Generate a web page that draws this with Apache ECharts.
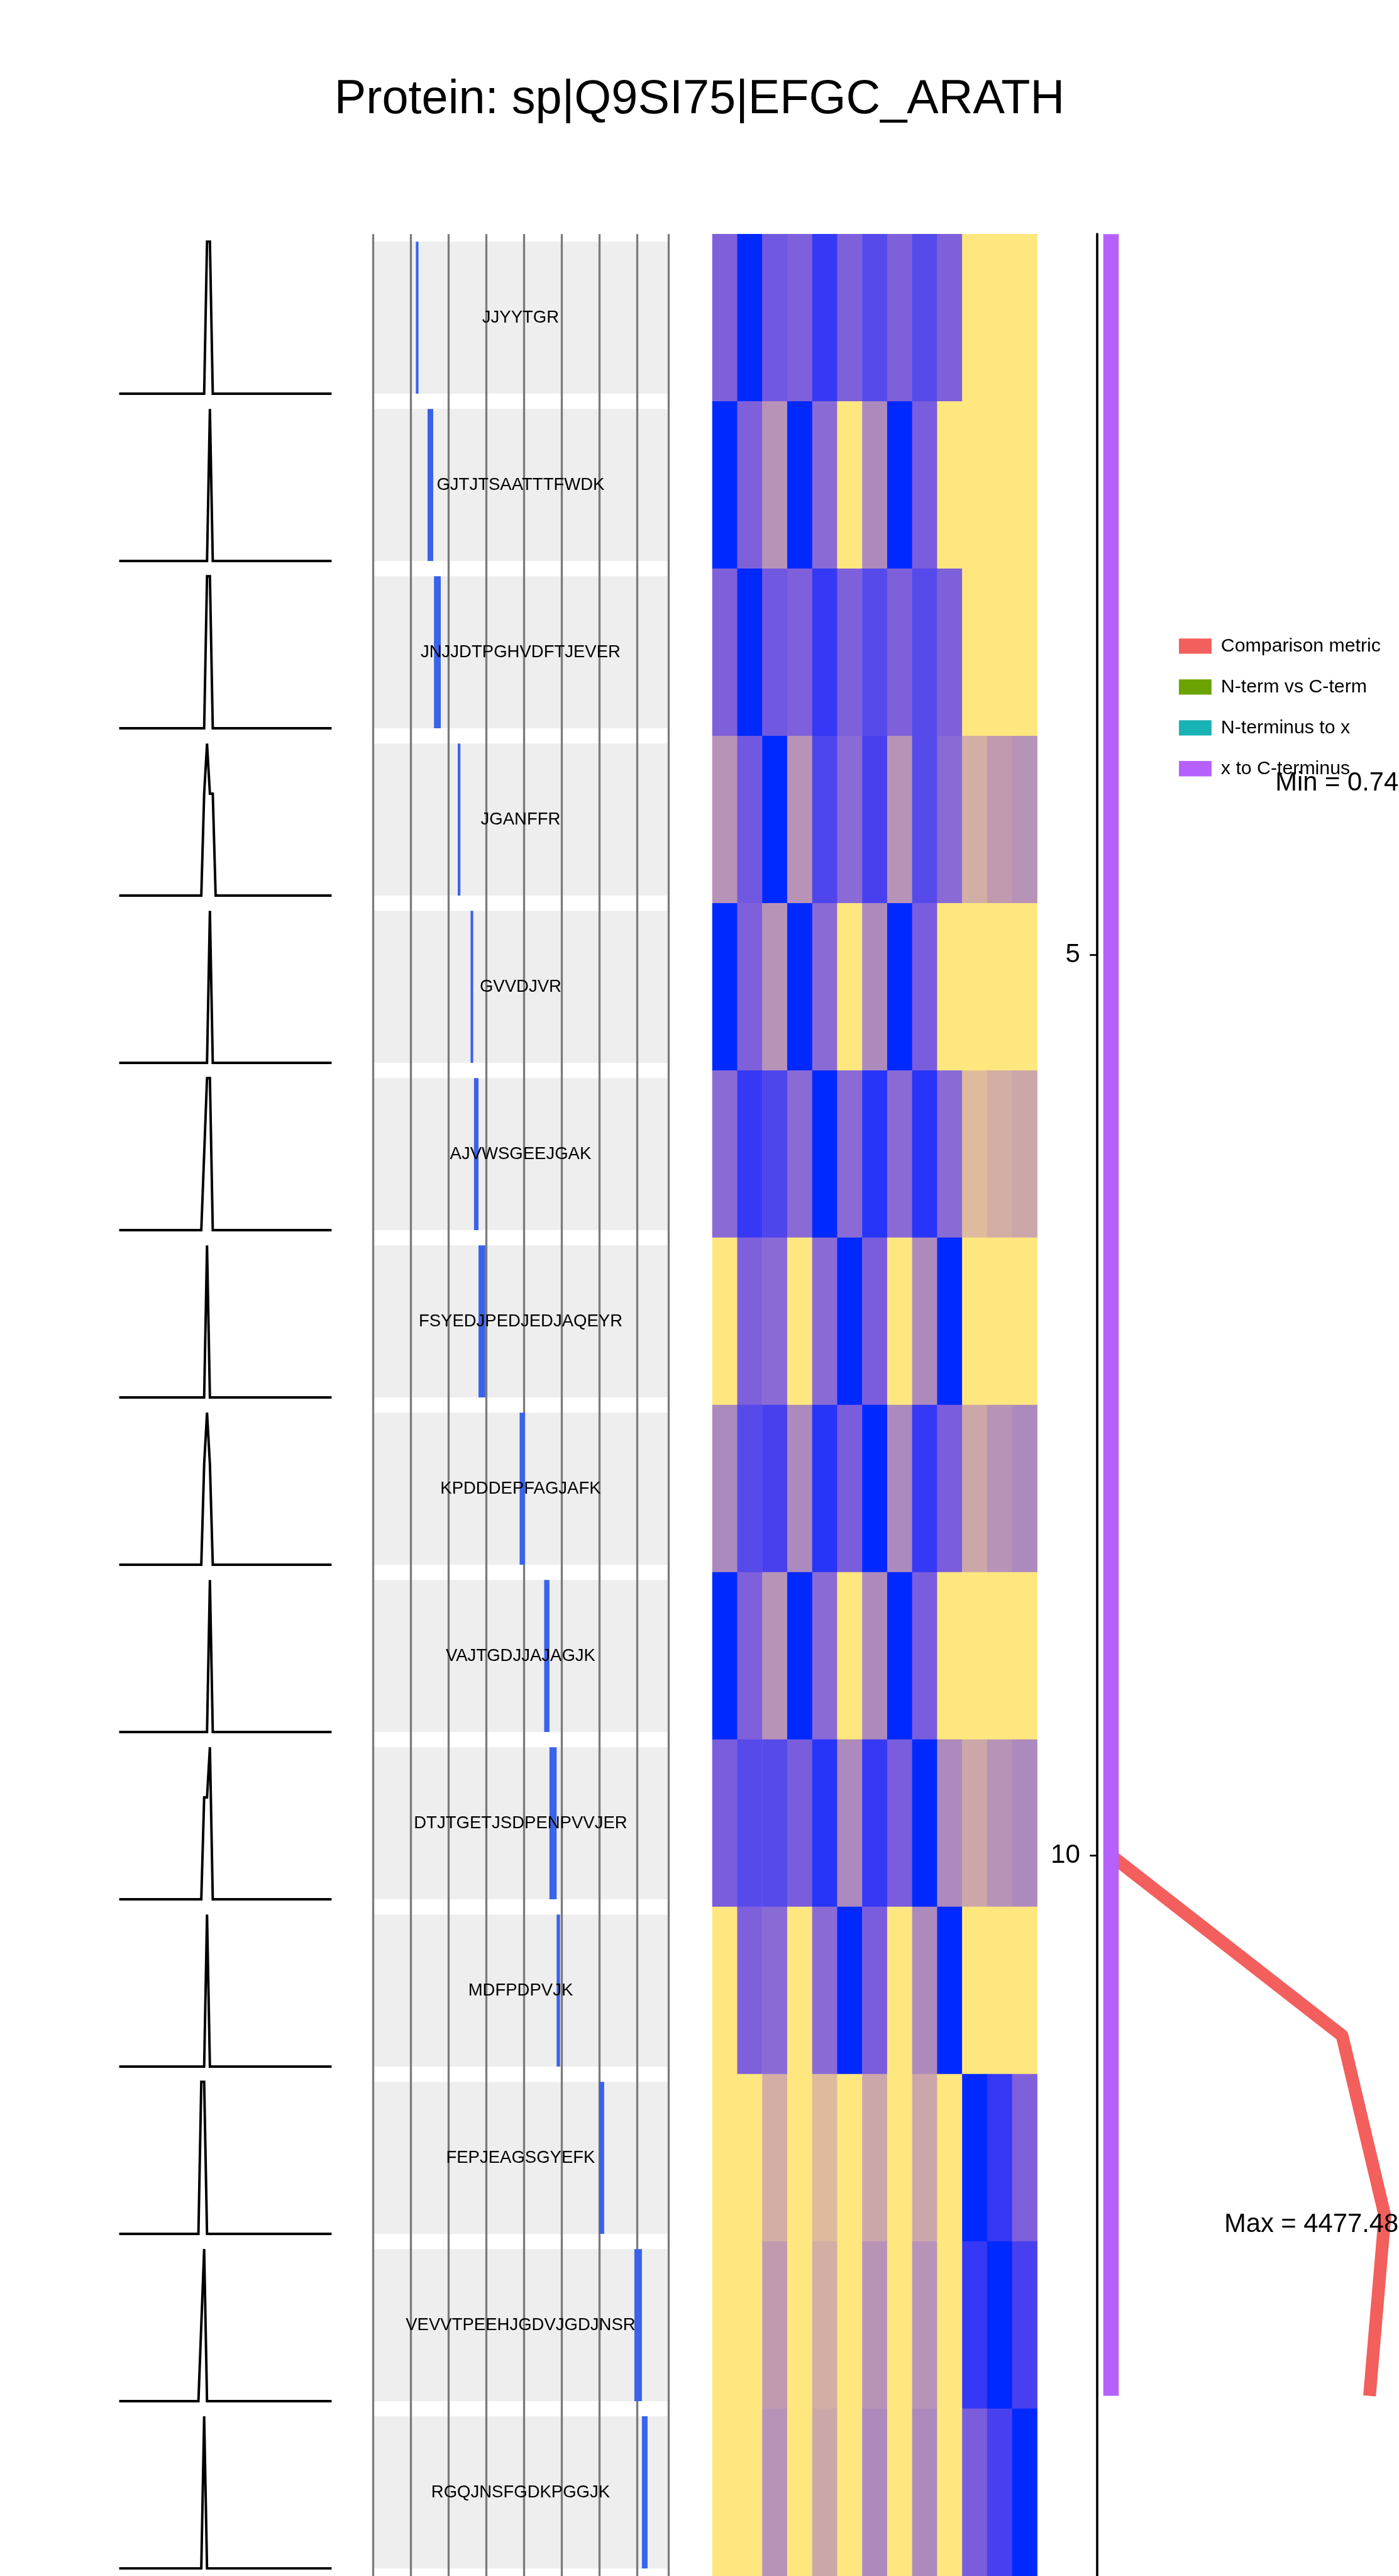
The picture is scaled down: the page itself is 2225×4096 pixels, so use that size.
<!DOCTYPE html>
<html>
<head>
<meta charset="utf-8">
<script src="https://cdn.jsdelivr.net/npm/echarts@6/dist/echarts.min.js"></script>
<style>html,body{margin:0;padding:0;background:#fff}#chart{width:2225px;height:4096px}</style>
</head>
<body>
<div id="chart"></div>
<script>
// ---------------- data ----------------
const proteinTitle = 'Protein: sp|Q9SI75|EFGC_ARATH';
const peptides = ['JJYYTGR','GJTJTSAATTTFWDK','JNJJDTPGHVDFTJEVER','JGANFFR','GVVDJVR','AJVWSGEEJGAK','FSYEDJPEDJEDJAQEYR','KPDDDEPFAGJAFK','VAJTGDJJAJAGJK','DTJTGETJSDPENPVVJER','MDFPDPVJK','FEPJEAGSGYEFK','VEVVTPEEHJGDVJGDJNSR','RGQJNSFGDKPGGJK'];
const peptideStart = [114,145,162,225,259,268,280,389,454,468,487,600,693,713];
const peptideEnd   = [121,160,180,232,266,280,298,403,468,487,496,613,713,728];
const proteinLength = 783;
const positionTickStep = 100;

// elution traces: [time, relative intensity]
const traces = [
  [[0,0],[29.6,0],[30.6,1],[31.6,1],[32.6,0],[74,0]],
  [[0,0],[30.6,0],[31.6,1],[32.6,0],[74,0]],
  [[0,0],[29.6,0],[30.6,1],[31.6,1],[32.6,0],[74,0]],
  [[0,0],[28.6,0],[29.6,0.67],[30.6,1],[31.6,0.67],[32.6,0.67],[33.6,0],[74,0]],
  [[0,0],[30.6,0],[31.6,1],[32.6,0],[74,0]],
  [[0,0],[28.6,0],[30.6,1],[31.6,1],[32.6,0],[74,0]],
  [[0,0],[29.6,0],[30.6,1],[31.6,0],[74,0]],
  [[0,0],[28.6,0],[29.6,0.66],[30.6,1],[31.6,0.66],[32.6,0],[74,0]],
  [[0,0],[30.6,0],[31.6,1],[32.6,0],[74,0]],
  [[0,0],[28.6,0],[29.6,0.67],[30.6,0.67],[31.6,1],[32.6,0],[74,0]],
  [[0,0],[29.6,0],[30.6,1],[31.6,0],[74,0]],
  [[0,0],[27.6,0],[28.6,1],[29.6,1],[30.6,0],[74,0]],
  [[0,0],[27.6,0],[29.6,1],[30.6,0],[74,0]],
  [[0,0],[28.6,0],[29.6,1],[30.6,0],[74,0]]
];
const traceTimeMax = 74;

// heatmap levels (0 = lowest / blue ... 16 = highest / yellow), 14 rows x 13 columns
const heatColumns = ['1','2','3','4','5','6','7','8','9','10','11','12','13'];
const heatLevels = [
  [8,0,6,8,2,8,5,8,5,8,16,16,16],
  [0,8,11,0,9,16,10,0,7,16,16,16,16],
  [8,0,6,8,2,8,5,8,5,8,16,16,16],
  [11,6,0,11,4,9,3,11,5,9,14,12,11],
  [0,8,11,0,9,16,10,0,7,16,16,16,16],
  [9,2,4,9,0,9,1,9,1,9,15,14,13],
  [16,8,9,16,9,0,7,16,10,0,16,16,16],
  [10,5,3,10,1,7,0,10,2,7,13,11,10],
  [0,8,11,0,9,16,10,0,7,16,16,16,16],
  [7,5,5,7,1,10,2,7,0,10,13,11,10],
  [16,8,9,16,9,0,7,16,10,0,16,16,16],
  [16,16,14,16,15,16,13,16,13,16,0,2,8],
  [16,16,12,16,14,16,11,16,11,16,2,0,3],
  [16,16,11,16,13,16,10,16,10,16,7,3,0]
];
const heatMin = 0, heatMax = 16;

// right panel
const legendNames = ['Comparison metric','N-term vs C-term','N-terminus to x','x to C-terminus'];
const metricRows = [10,11,12,13];
const metricValues = [0.74,3779,4477.48,4227];
const xToCRows = [1,13];
const xToCValues = [0,0];
const rowAxisMin = 1, rowAxisMax = 14;
const rowTicks = [5,10];
const annotationRows = [4.05,12.05];

// ---------------- styles / layout ----------------
const S = 2225 / 2424;
const s = v => v * S;
const FONT = '"Liberation Sans", Arial, Helvetica, sans-serif';
const W = 2225, H = 4096;
const gridTop = s(405.5);
const rowPitch = (H - gridTop) / peptides.length;
const fill = 0.909;
const heatColors = ['#0029FF','#2734FA','#3538F5','#4840EF','#4F45EC','#564AEB','#7058E0','#7A5DDD','#7F60DB','#8A6BD6','#AD8ABD','#B893B8','#C29AB0','#CCA7A9','#D2AEA4','#DEBB9C','#FEE77F'];
const seriesColors = ['#F25F5C','#6BA300','#19B2B5','#B660FE'];

const grids = [], xAxes = [], yAxes = [], series = [];

// peak panels
traces.forEach((tr, k) => {
  grids.push({left: s(206.5), width: s(368.1), top: gridTop + k*rowPitch + rowPitch*(1-fill)/2, height: rowPitch*fill});
  xAxes.push({gridIndex: k, type: 'value', min: 0, max: traceTimeMax, show: false});
  yAxes.push({gridIndex: k, type: 'value', min: 0, max: 1, show: false});
  series.push({type: 'line', xAxisIndex: k, yAxisIndex: k, data: tr, symbol: 'none', clip: false, silent: true,
    lineStyle: {color: '#000', width: s(4.3), join: 'miter'}});
});

// middle panel (peptide positions)
const gMid = grids.length;
grids.push({left: s(646), width: s(512), top: gridTop, height: H - gridTop});
xAxes.push({gridIndex: gMid, type: 'value', min: 0, max: proteinLength, interval: positionTickStep, z: 2,
  axisLine: {show: false}, axisTick: {show: false}, axisLabel: {show: false},
  splitLine: {show: true, lineStyle: {color: '#7A7A7A', width: s(3.6)}}});
yAxes.push({gridIndex: gMid, type: 'category', data: peptides, inverse: true, show: false});

series.push({type: 'custom', xAxisIndex: gMid, yAxisIndex: gMid, z: 1, silent: true,
  data: peptides.map((p, i) => [i, 0, proteinLength]), encode: {x: [1, 2], y: 0},
  renderItem: (params, api) => {
    const a = api.coord([api.value(1), api.value(0)]);
    const b = api.coord([api.value(2), api.value(0)]);
    const h = api.size([0, 1])[1] * fill;
    return {type: 'rect', shape: {x: a[0], y: a[1] - h/2, width: b[0] - a[0], height: h}, style: {fill: '#EEEEEE'}};
  }});
series.push({type: 'custom', xAxisIndex: gMid, yAxisIndex: gMid, z: 3, silent: true,
  data: peptides.map((p, i) => [i, peptideStart[i], peptideEnd[i]]), encode: {x: [1, 2], y: 0},
  renderItem: (params, api) => {
    const a = api.coord([api.value(1), api.value(0)]);
    const b = api.coord([api.value(2), api.value(0)]);
    const h = api.size([0, 1])[1] * fill;
    return {type: 'rect', shape: {x: a[0], y: a[1] - h/2, width: b[0] - a[0], height: h}, style: {fill: '#3A63EA'}};
  }});
series.push({type: 'custom', xAxisIndex: gMid, yAxisIndex: gMid, z: 4, silent: true,
  data: peptides.map((p, i) => [i, proteinLength / 2]), encode: {x: 1, y: 0},
  renderItem: (params, api) => {
    const c = api.coord([api.value(1), api.value(0)]);
    return {type: 'text', x: c[0], y: c[1], style: {text: peptides[params.dataIndex], fill: '#000',
      fontSize: s(30), fontFamily: FONT, align: 'center', verticalAlign: 'middle'}};
  }});

// heatmap panel
const gHeat = grids.length;
grids.push({left: s(1234.3), width: s(562.9), top: gridTop, height: H - gridTop});
xAxes.push({gridIndex: gHeat, type: 'category', data: heatColumns, show: false});
yAxes.push({gridIndex: gHeat, type: 'category', data: peptides, inverse: true, show: false});
const heatData = [];
heatLevels.forEach((row, r) => row.forEach((v, c) => heatData.push([c, r, v])));
const heatSeriesIndex = series.length;
series.push({type: 'heatmap', xAxisIndex: gHeat, yAxisIndex: gHeat, data: heatData, silent: true,
  itemStyle: {borderWidth: 0}, emphasis: {disabled: true}});

// right panel
const gR = grids.length;
const mMax = Math.max(...metricValues), mMin = Math.min(...metricValues);
const xLo = -0.05 * mMax, xHi = 1.05 * mMax;
grids.push({left: s(1901.3), width: s(521.9), top: gridTop, height: H - gridTop});
xAxes.push({gridIndex: gR, type: 'value', min: xLo, max: xHi, show: false});
yAxes.push({gridIndex: gR, type: 'value', min: rowAxisMin, max: rowAxisMax, inverse: true,
  axisLine: {show: true, onZero: false, lineStyle: {color: '#000', width: s(4)}},
  axisTick: {show: true, customValues: rowTicks, length: s(13), lineStyle: {color: '#000', width: s(3)}},
  axisLabel: {show: true, customValues: rowTicks, margin: s(29.8), color: '#000', fontSize: s(46), fontFamily: FONT},
  splitLine: {show: false}});

series.push({name: legendNames[0], type: 'line', xAxisIndex: gR, yAxisIndex: gR, color: seriesColors[0],
  data: metricValues.map((v, i) => [v, metricRows[i]]), symbol: 'none', clip: false, silent: true,
  lineStyle: {width: s(22), cap: 'butt', join: 'round'}});
series.push({name: legendNames[1], type: 'line', xAxisIndex: gR, yAxisIndex: gR, color: seriesColors[1], data: [], symbol: 'none'});
series.push({name: legendNames[2], type: 'line', xAxisIndex: gR, yAxisIndex: gR, color: seriesColors[2], data: [], symbol: 'none'});
series.push({name: legendNames[3], type: 'line', xAxisIndex: gR, yAxisIndex: gR, color: seriesColors[3],
  data: xToCValues.map((v, i) => [v, xToCRows[i]]), symbol: 'none', clip: false, silent: true,
  lineStyle: {width: s(26.8), cap: 'butt'}});

const annotationTexts = ['Min = ' + mMin, 'Max = ' + mMax];
series.push({type: 'custom', xAxisIndex: gR, yAxisIndex: gR, z: 5, silent: true,
  data: annotationRows.map(r => [xHi, r]), encode: {x: 0, y: 1},
  renderItem: (params, api) => {
    const c = api.coord([api.value(0), api.value(1)]);
    return {type: 'text', x: c[0], y: c[1], style: {text: annotationTexts[params.dataIndex], fill: '#000',
      fontSize: s(45.5), fontFamily: FONT, align: 'right', verticalAlign: 'middle'}};
  }});

const option = {
  animation: false,
  backgroundColor: '#fff',
  title: {text: proteinTitle, left: 'center', top: s(173.4) - 38, padding: 0,
    textStyle: {fontSize: s(82.5), lineHeight: 76, fontWeight: 'normal', color: '#000', fontFamily: FONT}},
  legend: {data: legendNames, orient: 'vertical', left: s(2042.7), top: s(1119.2) - 15.5, padding: 0,
    icon: 'rect', itemWidth: s(56.5), itemHeight: s(26.5), itemGap: s(70.8) - 31, selectedMode: false,
    itemStyle: {borderWidth: 0},
    textStyle: {fontSize: s(33), lineHeight: 31, color: '#000', fontFamily: FONT, padding: [0, 0, 0, 10]}},
  visualMap: {type: 'continuous', show: false, seriesIndex: heatSeriesIndex, dimension: 2,
    min: heatMin, max: heatMax, inRange: {color: heatColors}},
  grid: grids, xAxis: xAxes, yAxis: yAxes, series: series
};
const chart = echarts.init(document.getElementById('chart'), null, {renderer: 'canvas', width: W, height: H});
chart.setOption(option);
</script>
</body>
</html>
